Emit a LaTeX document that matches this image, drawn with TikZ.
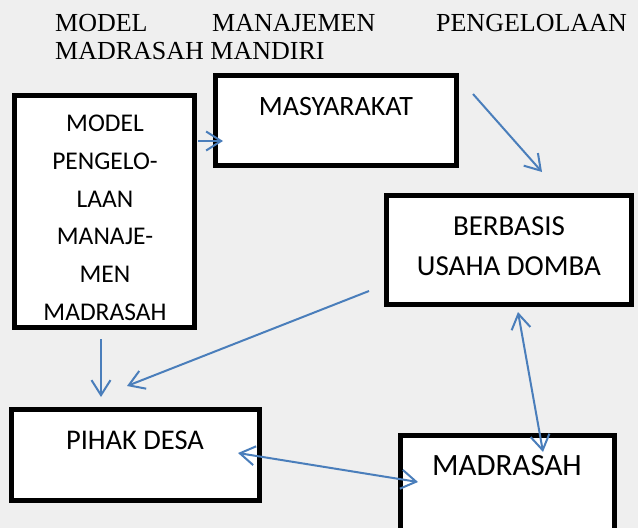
\documentclass[tikz,border=0pt]{standalone}
\usepackage{fontspec}
\setmainfont{Liberation Serif}
\newfontfamily\calib{Carlito}
\usetikzlibrary{arrows.meta}
\definecolor{bg}{RGB}{239,239,239}
\definecolor{arr}{RGB}{74,126,187}
\begin{document}
\begin{tikzpicture}[x=1pt,y=-1pt,
  box/.style={draw=black,line width=5pt,fill=white,inner sep=0pt,outer sep=0pt},
  ttl/.style={font=\fontsize{26}{30}\selectfont,inner sep=0pt},
  lbl/.style={inner sep=0pt,anchor=base},
  tipb/.tip={Straight Barb[length=15pt,width=19pt]},
  conn/.style={draw=arr,line width=2pt,-tipb},
  biconn/.style={draw=arr,line width=2pt,tipb-tipb}]
\useasboundingbox (0,0) rectangle (638,528);
\clip (0,0) rectangle (638,528);
\fill[bg] (0,0) rectangle (638,528);
% title
\node[ttl,anchor=base west] (t1) at (55,31.7) {MODEL};
\node[ttl,anchor=base west] (t2) at (212,31.7) {MANAJEMEN};
\node[ttl,anchor=base east] (t3) at (627,31.7) {PENGELOLAAN};
\node[ttl,anchor=base west] (t4) at (55,59) {MADRASAH MANDIRI};
% boxes
\node[box,minimum width=180pt,minimum height=232pt] (model) at (104.5,211.5) {};
\node[box,minimum width=241pt,minimum height=90pt] (masy) at (336,120.5) {};
\node[box,minimum width=245pt,minimum height=109pt] (berb) at (509,250) {};
\node[box,minimum width=248pt,minimum height=91pt] (pihak) at (135.5,455) {};
\node[box,minimum width=214pt,minimum height=124.5pt] (madr) at (507.5,497.75) {};
% texts
\foreach \t [count=\i from 0] in {MODEL,PENGELO-,LAAN,MANAJE-,MEN,MADRASAH}
  \node[lbl,font=\calib\fontsize{25.5}{30}\selectfont] (m\i) at (105,131.7+37.66*\i) {\t};
\node[lbl,font=\calib\fontsize{28}{32}\selectfont] (masyt) at (336,115) {MASYARAKAT};
\node[lbl,font=\calib\fontsize{29}{33}\selectfont] (berb1) at (509,235) {BERBASIS};
\node[lbl,font=\calib\fontsize{29}{33}\selectfont] (berb2) at (509,275) {USAHA DOMBA};
\node[lbl,font=\calib\fontsize{28.5}{33}\selectfont] (pihakt) at (135,449) {PIHAK DESA};
\node[lbl,font=\calib\fontsize{31}{35}\selectfont] (madrt) at (507,475) {MADRASAH};
% connector ends
\coordinate (a1s) at (198,141);  \coordinate (a1e) at (223,141);
\coordinate (a2s) at (473,94);   \coordinate (a2e) at (542,172);
\coordinate (a3s) at (369,291);  \coordinate (a3e) at (127,386);
\coordinate (a4s) at (101,339);  \coordinate (a4e) at (101,397);
\coordinate (a5s) at (518,312);  \coordinate (a5e) at (543,452);
\coordinate (a6s) at (238,453);  \coordinate (a6e) at (418,482);
\draw[conn] (a1s) -- (a1e);
\draw[conn] (a2s) -- (a2e);
\draw[conn] (a3s) -- (a3e);
\draw[conn] (a4s) -- (a4e);
\draw[biconn] (a5s) -- (a5e);
\draw[biconn] (a6s) -- (a6e);
\end{tikzpicture}
\end{document}
